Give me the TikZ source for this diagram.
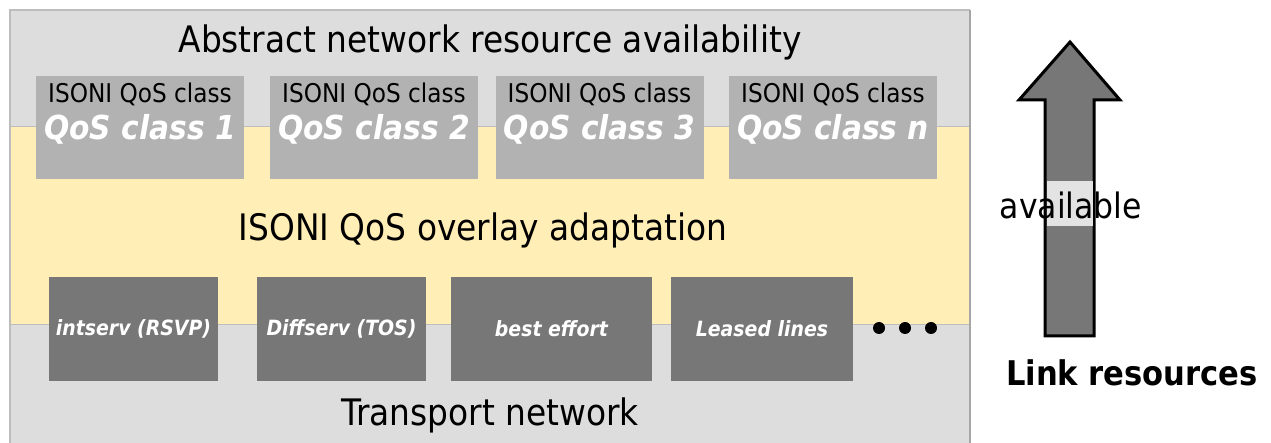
\documentclass[tikz,border=0pt]{standalone}
\usepackage{fontspec}
\setmainfont{DejaVu Sans Condensed}
\definecolor{outerfill}{HTML}{DDDDDD}
\definecolor{bandfill}{HTML}{FFEFB6}
\definecolor{topfill}{HTML}{B2B2B2}
\definecolor{botfill}{HTML}{777777}
\definecolor{edgegray}{HTML}{BDBDBD}
\begin{document}
\begin{tikzpicture}[x=1pt,y=-1pt,
  topbox/.style={fill=topfill, draw=none, minimum width=208pt, minimum height=103pt, inner sep=0pt},
  botbox/.style={fill=botfill, draw=none, minimum height=104pt, inner sep=0pt},
  toptxt/.style={inner sep=0pt, font=\fontsize{25.8}{30}\selectfont},
  qostxt/.style={inner sep=0pt, text=white, font=\fontsize{33}{40}\selectfont\bfseries\itshape},
  bottxt/.style={inner sep=0pt, text=white, font=\fontsize{21}{25}\selectfont\bfseries\itshape},
  bigtxt/.style={inner sep=0pt, font=\fontsize{36.5}{42}\selectfont},
  dotmark/.style={circle, fill=black, inner sep=0pt, minimum size=12pt}
]
\useasboundingbox (0,0) rectangle (1271,443);
% outer layer
\fill[outerfill] (10,10) rectangle (971,443);
\draw[edgegray, line width=1.5pt] (10,443) -- (10,10) -- (970,10);
\draw[gray!70, line width=2.5pt] (970,10) -- (970,443);
% band
\fill[bandfill] (11,127) rectangle (969,325);
\draw[edgegray, line width=1pt] (11,127) -- (969,127);
\draw[edgegray, line width=1pt] (11,325) -- (969,325);
% texts of layers
\node[bigtxt] (abs) at (490,42) {Abstract network resource availability};
\node[bigtxt] (ovl) at (483,230) {ISONI QoS overlay adaptation};
\node[bigtxt] (trn) at (490,415) {Transport network};
% top boxes
\node[topbox] (q1) at (140,127.5) {};
\node[topbox] (q2) at (374,127.5) {};
\node[topbox] (q3) at (599.5,127.5) {};
\node[topbox] (q4) at (833,127.5) {};
\foreach \b/\t in {q1/1, q2/2, q3/3, q4/n}{
  \node[toptxt] at ([yshift=-19]\b.north) {ISONI QoS class};
  \node[qostxt] at ([yshift=-54]\b.north) {QoS class \t};
}
% bottom boxes
\node[botbox, minimum width=169pt] (b1) at (133.5,329) {};
\node[botbox, minimum width=169pt] (b2) at (341.5,329) {};
\node[botbox, minimum width=201pt] (b3) at (551.5,329) {};
\node[botbox, minimum width=182pt] (b4) at (762,329) {};
\node[bottxt] at (b1) {intserv (RSVP)};
\node[bottxt] at (b2) {Diffserv (TOS)};
\node[bottxt] at (b3) {best effort};
\node[bottxt] at (b4) {Leased lines};
\node[dotmark] (d1) at (879,328) {};
\node[dotmark] (d2) at (905,328) {};
\node[dotmark] (d3) at (931,328) {};
% arrow
\draw[fill=botfill, line width=3pt, line join=miter]
  (1045,336) -- (1045,100) -- (1019,100) -- (1070,42) -- (1120,100) -- (1094,100) -- (1094,336) -- cycle;
\fill[gray!22] (1046.5,181) rectangle (1092.5,226);
\node[inner sep=0pt, font=\fontsize{35}{40}\selectfont] (avl) at (1071,205) {available};
\node[inner sep=0pt, font=\fontsize{34}{40}\selectfont\bfseries] (lnk) at (1132,373) {Link resources};
\end{tikzpicture}
\end{document}
